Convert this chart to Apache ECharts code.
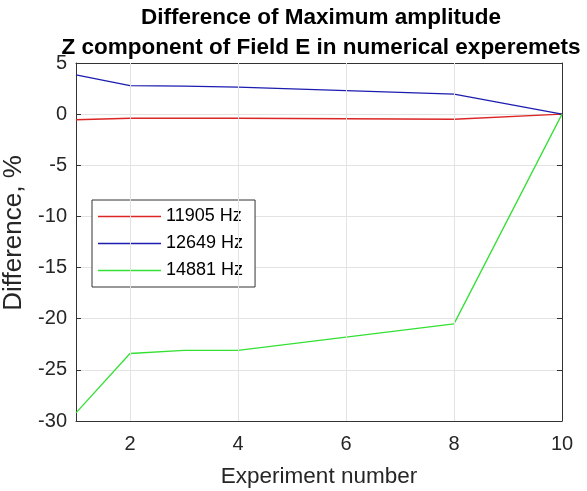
<!DOCTYPE html>
<html>
<head>
<meta charset="utf-8">
<script src="https://cdn.jsdelivr.net/npm/echarts@6/dist/echarts.min.js"></script>
<style>
  html, body { margin: 0; padding: 0; background: #fff; }
  #chart { width: 587px; height: 491px; }
</style>
</head>
<body>
<div id="chart"></div>
<script>
"use strict";
// experiment numbers and difference values (%)
const experiments = [1, 2, 3, 4, 8, 10];
const diff11905 = [-0.55, -0.4, -0.4, -0.4, -0.5, 0];
const diff12649 = [3.85, 2.78, 2.74, 2.65, 1.95, 0];
const diff14881 = [-29.2, -23.4, -23.1, -23.1, -20.5, 0];
const seriesNames = ['11905 Hz', '12649 Hz', '14881 Hz'];
const seriesColors = ['#dc2626', '#1c1cb0', '#34e034'];
const xTicks = [2, 4, 6, 8, 10];

const font = 'Liberation Sans, Arial, sans-serif';
const axisColor = '#333';
const gridColor = '#e3e3e3';
const pair = (xs, ys) => xs.map((x, i) => [x, ys[i]]);

const chart = echarts.init(document.getElementById('chart'));

const lineSeries = [diff11905, diff12649, diff14881].map((vals, i) => ({
    name: seriesNames[i],
    type: 'line',
    data: pair(experiments, vals),
    symbol: 'none',
    z: 3,
    lineStyle: { color: seriesColors[i], width: 1.3 },
    itemStyle: { color: seriesColors[i] }
}));

const tickStyle = { show: true, inside: true, length: 5, lineStyle: { color: axisColor } };
const axisLine = { show: true, onZero: false, lineStyle: { color: axisColor, width: 1 } };

const option = {
    backgroundColor: '#fff',
    animation: false,
    title: {
        text: 'Difference of Maximum amplitude\nZ component of Field E in numerical experemets',
        left: 321,
        top: 3,
        padding: 0,
        textAlign: 'center',
        textStyle: {
            fontFamily: font,
            fontWeight: 'bold',
            fontSize: 22.5,
            lineHeight: 30,
            color: '#000'
        }
    },
    legend: {
        orient: 'vertical',
        left: 92,
        top: 200,
        padding: [6, 12, 6, 6],
        icon: 'rect',
        itemWidth: 63,
        itemHeight: 1.4,
        itemGap: 6,
        backgroundColor: '#fff',
        borderColor: axisColor,
        borderWidth: 1,
        borderRadius: 0,
        textStyle: { fontFamily: font, fontSize: 18, lineHeight: 21, color: '#000' },
        data: seriesNames
    },
    grid: { left: 76, right: 25, top: 63, bottom: 70, outerBoundsMode: 'none' },
    xAxis: [{
        type: 'value',
        min: 1,
        max: 10,
        position: 'bottom',
        name: 'Experiment number',
        nameLocation: 'middle',
        nameGap: 44,
        nameTextStyle: { fontFamily: font, fontSize: 22.5, color: '#262626' },
        axisLine: axisLine,
        axisTick: Object.assign({ customValues: xTicks }, tickStyle),
        axisLabel: {
            fontFamily: font, fontSize: 20, color: '#262626', margin: 13,
            customValues: xTicks
        },
        splitLine: { show: false }
    }, {
        type: 'value',
        min: 1,
        max: 10,
        position: 'top',
        axisLine: axisLine,
        axisTick: Object.assign({ customValues: xTicks }, tickStyle),
        axisLabel: { show: false },
        splitLine: { show: false }
    }],
    yAxis: [{
        type: 'value',
        min: -30,
        max: 5,
        interval: 5,
        position: 'left',
        name: 'Difference, %',
        nameLocation: 'middle',
        nameGap: 41,
        nameTextStyle: { fontFamily: font, fontSize: 26, color: '#262626', padding: [0, 0, 0, 18] },
        axisLine: axisLine,
        axisTick: tickStyle,
        axisLabel: { fontFamily: font, fontSize: 20, color: '#262626', margin: 9 },
        splitLine: { show: true, lineStyle: { color: gridColor } }
    }, {
        type: 'value',
        min: -30,
        max: 5,
        interval: 5,
        position: 'right',
        axisLine: axisLine,
        axisTick: tickStyle,
        axisLabel: { show: false },
        splitLine: { show: false }
    }],
    series: lineSeries.concat([{
        // vertical grid lines at the x tick positions
        type: 'line',
        data: [],
        silent: true,
        z: 1,
        markLine: {
            symbol: 'none',
            silent: true,
            label: { show: false },
            lineStyle: { color: gridColor, type: 'solid', width: 1 },
            data: xTicks.slice(0, -1).map(v => ({ xAxis: v }))
        }
    }])
};

chart.setOption(option);
</script>
</body>
</html>
